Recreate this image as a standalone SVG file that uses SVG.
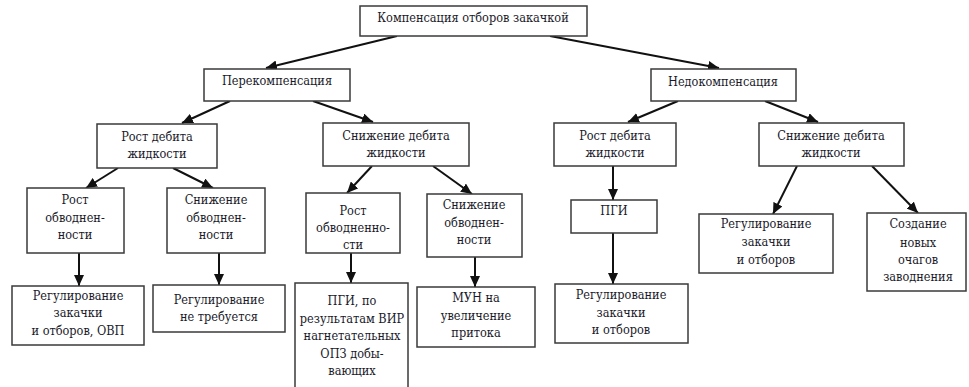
<svg xmlns="http://www.w3.org/2000/svg" width="969" height="387" viewBox="0 0 969 387">
<defs>
<style>
.b{fill:#fff;stroke:#3a3a3a;stroke-width:1.5}
.c{stroke:#111;stroke-width:2;fill:none;marker-end:url(#ah)}
</style>
<marker id="ah" markerUnits="userSpaceOnUse" markerWidth="12" markerHeight="10" refX="11" refY="5" orient="auto">
<path d="M0,0 L11,5 L0,10 Z" fill="#111"/>
</marker>
</defs>
<rect width="969" height="387" fill="#fff"/>
<g id="connectors">
<line class="c" x1="397" y1="36" x2="266" y2="68"/>
<line class="c" x1="550" y1="36" x2="719" y2="68"/>
<line class="c" x1="230" y1="101" x2="182" y2="123"/>
<line class="c" x1="313" y1="101" x2="373" y2="122"/>
<line class="c" x1="678" y1="101" x2="628" y2="122"/>
<line class="c" x1="765" y1="101" x2="818" y2="122"/>
<line class="c" x1="118" y1="168" x2="86" y2="188"/>
<line class="c" x1="173" y1="168" x2="213" y2="188"/>
<line class="c" x1="372" y1="166" x2="347" y2="193"/>
<line class="c" x1="433" y1="166" x2="472" y2="194"/>
<line class="c" x1="613" y1="166" x2="613" y2="200"/>
<line class="c" x1="797" y1="166" x2="773" y2="214"/>
<line class="c" x1="872" y1="166" x2="918" y2="213"/>
<line class="c" x1="79" y1="253" x2="79" y2="286"/>
<line class="c" x1="219" y1="253" x2="219" y2="285"/>
<line class="c" x1="351" y1="253" x2="351" y2="283"/>
<line class="c" x1="475" y1="257" x2="475" y2="287"/>
<line class="c" x1="613" y1="233" x2="613" y2="284"/>
</g>
<g font-family="DejaVu Serif Condensed, DejaVu Serif, serif" font-stretch="condensed" font-size="12.6" fill="#1a1a2a" text-anchor="middle">
<g id="n-top"><rect class="b" x="360" y="6" width="227" height="30"/><text x="473" y="22">Компенсация отборов закачкой</text></g>
<g id="n-pere"><rect class="b" x="204" y="69" width="146" height="32"/><text x="277" y="85">Перекомпенсация</text></g>
<g id="n-nedo"><rect class="b" x="651" y="69" width="145" height="32"/><text x="723" y="86">Недокомпенсация</text></g>
<g id="n-a"><rect class="b" x="97" y="124" width="120" height="44"/><text x="157" y="141">Рост дебита</text><text x="157" y="158">жидкости</text></g>
<g id="n-b"><rect class="b" x="323" y="123" width="146" height="43"/><text x="396" y="140">Снижение дебита</text><text x="396" y="157">жидкости</text></g>
<g id="n-c"><rect class="b" x="554" y="123" width="122" height="43"/><text x="615" y="140">Рост дебита</text><text x="615" y="157">жидкости</text></g>
<g id="n-d"><rect class="b" x="759" y="123" width="145" height="43"/><text x="831" y="140">Снижение дебита</text><text x="831" y="157">жидкости</text></g>
<g id="n-e"><rect class="b" x="27" y="188" width="97" height="65"/><text x="75" y="204">Рост</text><text x="75" y="222">обводнен-</text><text x="75" y="239">ности</text></g>
<g id="n-f"><rect class="b" x="167" y="188" width="98" height="65"/><text x="216" y="204">Снижение</text><text x="216" y="222">обводнен-</text><text x="216" y="239">ности</text></g>
<g id="n-g"><rect class="b" x="306" y="193" width="94" height="60"/><text x="353" y="215">Рост</text><text x="353" y="232">обводненно-</text><text x="353" y="249">сти</text></g>
<g id="n-h"><rect class="b" x="427" y="194" width="95" height="63"/><text x="474" y="209">Снижение</text><text x="474" y="227">обводнен-</text><text x="474" y="244">ности</text></g>
<g id="n-i"><rect class="b" x="571" y="200" width="86" height="33"/><text x="614" y="215">ПГИ</text></g>
<g id="n-j"><rect class="b" x="699" y="214" width="134" height="59"/><text x="766" y="228">Регулирование</text><text x="766" y="246">закачки</text><text x="766" y="264">и отборов</text></g>
<g id="n-k"><rect class="b" x="867" y="213" width="99" height="78"/><text x="918" y="228">Создание</text><text x="918" y="247">новых</text><text x="918" y="264">очагов</text><text x="918" y="281">заводнения</text></g>
<g id="n-l"><rect class="b" x="12" y="286" width="132" height="59"/><text x="78" y="300">Регулирование</text><text x="78" y="317">закачки</text><text x="78" y="335">и отборов, ОВП</text></g>
<g id="n-m"><rect class="b" x="153" y="285" width="132" height="47"/><text x="219" y="304">Регулирование</text><text x="219" y="321">не требуется</text></g>
<g id="n-n"><rect class="b" x="295" y="283" width="113" height="112"/><text x="352" y="305">ПГИ, по</text><text x="352" y="323">результатам ВИР</text><text x="352" y="340">нагнетательных</text><text x="352" y="358">ОПЗ добы-</text><text x="352" y="375">вающих</text></g>
<g id="n-o"><rect class="b" x="417" y="287" width="118" height="60"/><text x="476" y="302">МУН на</text><text x="476" y="320">увеличение</text><text x="476" y="337">притока</text></g>
<g id="n-p"><rect class="b" x="555" y="284" width="133" height="59"/><text x="621" y="299">Регулирование</text><text x="621" y="317">закачки</text><text x="621" y="334">и отборов</text></g>
</g>
</svg>
